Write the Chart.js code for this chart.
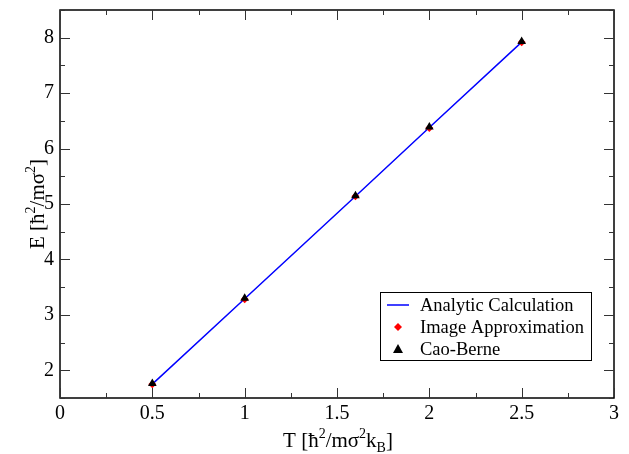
<!DOCTYPE html>
<html>
<head>
<meta charset="utf-8">
<script src="https://cdn.jsdelivr.net/npm/chart.js@4/dist/chart.umd.min.js"></script>
<style>
html,body{margin:0;padding:0;background:#fff;}
#c{display:block;}
</style>
</head>
<body>
<canvas id="c" width="629" height="454"></canvas>
<script>
// ---- data ----
const temps = [0.5, 1, 1.6, 2, 2.5];
const analytic = [1.75, 3.29, 5.14, 6.38, 7.92];
const imageApprox = [1.75, 3.28, 5.14, 6.37, 7.92];
const caoBerne = [1.76, 3.30, 5.15, 6.39, 7.93];
const xTickValues = [0, 0.5, 1, 1.5, 2, 2.5, 3];
const xTickLabels = ["0", "0.5", "1", "1.5", "2", "2.5", "3"];
const yTickValues = [2, 3, 4, 5, 6, 7, 8];
const yTickLabels = ["2", "3", "4", "5", "6", "7", "8"];
const seriesNames = ["Analytic Calculation", "Image Approximation", "Cao-Berne"];
const xTitleParts = [["T [ħ",0],["2",1],["/mσ",0],["2",1],["k",0],["B",-1],["]",0]];
const yTitleParts = [["E [ħ",0],["2",1],["/mσ",0],["2",1],["]",0]];

const FONT = "'Liberation Serif', 'Times New Roman', serif";

function drawRich(ctx, parts, size) {
  let w = 0;
  const items = parts.map(([t, s]) => {
    const fs = s === 0 ? size : Math.round(size * 0.68);
    ctx.font = fs + "px " + FONT;
    const mw = ctx.measureText(t).width;
    const it = {t, s, fs, w: mw};
    w += mw;
    return it;
  });
  let x = -w / 2;
  items.forEach(it => {
    ctx.font = it.fs + "px " + FONT;
    const dy = it.s === 1 ? -size * 0.42 : (it.s === -1 ? size * 0.25 : 0);
    ctx.fillText(it.t, x, dy);
    x += it.w;
  });
}

const framePlugin = {
  id: 'frame',
  afterDraw(chart) {
    const ctx = chart.ctx;
    const a = chart.chartArea;
    const xs = chart.scales.x, ys = chart.scales.y;
    ctx.save();
    ctx.strokeStyle = '#000';
    ctx.lineWidth = 1.5;
    ctx.strokeRect(a.left, a.top, a.right - a.left, a.bottom - a.top);
    ctx.lineWidth = 1;
    ctx.strokeStyle = '#333';
    const MAJ = 10, MIN = 5;
    for (let v = xs.min; v <= xs.max + 1e-9; v += 0.25) {
      const px = Math.round(xs.getPixelForValue(v)) + 0.5;
      const major = Math.abs(v * 2 - Math.round(v * 2)) < 1e-6;
      const L = major ? MAJ : MIN;
      ctx.beginPath();
      ctx.moveTo(px, a.bottom); ctx.lineTo(px, a.bottom - L);
      ctx.moveTo(px, a.top); ctx.lineTo(px, a.top + L);
      ctx.stroke();
    }
    for (let v = 1.5; v <= ys.max + 1e-9; v += 0.5) {
      const py = Math.round(ys.getPixelForValue(v)) + 0.5;
      const major = Math.abs(v - Math.round(v)) < 1e-6;
      const L = major ? MAJ : MIN;
      ctx.beginPath();
      ctx.moveTo(a.left, py); ctx.lineTo(a.left + L, py);
      ctx.moveTo(a.right, py); ctx.lineTo(a.right - L, py);
      ctx.stroke();
    }
    // axis titles
    ctx.fillStyle = '#000';
    ctx.textBaseline = 'alphabetic';
    ctx.textAlign = 'left';
    ctx.save();
    ctx.translate((a.left + a.right) / 2 + 1, 447);
    drawRich(ctx, xTitleParts, 21);
    ctx.restore();
    ctx.save();
    ctx.translate(44, (a.top + a.bottom) / 2);
    ctx.rotate(-Math.PI / 2);
    drawRich(ctx, yTitleParts, 21);
    ctx.restore();
    // legend
    const lx = 380, ly = 292, lw = 211, lh = 68;
    ctx.fillStyle = '#fff';
    ctx.fillRect(lx, ly, lw, lh);
    ctx.strokeStyle = '#000';
    ctx.lineWidth = 1;
    ctx.strokeRect(lx + 0.5, ly + 0.5, lw, lh);
    ctx.font = "18.5px " + FONT;
    ctx.textBaseline = 'middle';
    const rows = [305, 327, 349];
    chart.data.datasets.forEach((ds, i) => {
      const y = rows[i];
      ctx.fillStyle = '#000';
      ctx.fillText(ds.label, 420, y + 1);
      if (i === 0) {
        ctx.strokeStyle = ds.borderColor;
        ctx.lineWidth = 1.5;
        ctx.beginPath(); ctx.moveTo(387, y); ctx.lineTo(409, y); ctx.stroke();
      } else if (i === 1) {
        ctx.fillStyle = ds.backgroundColor;
        ctx.beginPath();
        ctx.moveTo(398, y - 4); ctx.lineTo(402, y); ctx.lineTo(398, y + 4); ctx.lineTo(394, y); ctx.closePath();
        ctx.fill();
      } else {
        ctx.fillStyle = ds.backgroundColor;
        ctx.beginPath();
        ctx.moveTo(398, y - 5); ctx.lineTo(403, y + 4); ctx.lineTo(393, y + 4); ctx.closePath();
        ctx.fill();
      }
    });
    ctx.restore();
  }
};

new Chart(document.getElementById('c'), {
  type: 'scatter',
  data: {
    datasets: [
      {
        label: seriesNames[0],
        data: temps.map((t, i) => ({x: t, y: analytic[i]})),
        showLine: true,
        borderColor: '#0000ff',
        backgroundColor: '#0000ff',
        borderWidth: 1.5,
        pointRadius: 0,
        order: 2
      },
      {
        label: seriesNames[1],
        data: temps.map((t, i) => ({x: t, y: imageApprox[i]})),
        showLine: false,
        pointStyle: 'rectRot',
        pointRadius: 4,
        backgroundColor: '#ff0000',
        borderColor: '#ff0000',
        borderWidth: 0,
        order: 1
      },
      {
        label: seriesNames[2],
        data: temps.map((t, i) => ({x: t, y: caoBerne[i]})),
        showLine: false,
        pointStyle: 'triangle',
        pointRadius: 5,
        backgroundColor: '#000000',
        borderColor: '#000000',
        borderWidth: 0,
        order: 0
      }
    ]
  },
  options: {
    responsive: false,
    animation: false,
    devicePixelRatio: 1,
    layout: { padding: { top: 10, right: 15, left: 0, bottom: 0 } },
    plugins: { legend: { display: false }, tooltip: { enabled: false } },
    scales: {
      x: {
        type: 'linear',
        min: 0, max: 3,
        afterBuildTicks: s => { s.ticks = xTickValues.map(v => ({value: v})); },
        afterFit: s => { s.height = 56; s.paddingLeft = 0; s.paddingRight = 0; },
        grid: { display: false, drawTicks: false },
        border: { display: false },
        ticks: {
          callback: (v) => { const i = xTickValues.indexOf(v); return i >= 0 ? xTickLabels[i] : ''; },
          color: '#000',
          font: { family: FONT, size: 20 },
          padding: 4,
          maxRotation: 0
        }
      },
      y: {
        type: 'linear',
        min: 1.5, max: 8.5,
        afterBuildTicks: s => { s.ticks = yTickValues.map(v => ({value: v})); },
        afterFit: s => { s.width = 60; s.paddingTop = 0; s.paddingBottom = 0; },
        grid: { display: false, drawTicks: false },
        border: { display: false },
        ticks: {
          callback: (v) => { const i = yTickValues.indexOf(v); return i >= 0 ? yTickLabels[i] : ''; },
          color: '#000',
          font: { family: FONT, size: 20 },
          padding: 6
        }
      }
    }
  },
  plugins: [framePlugin]
});
</script>
</body>
</html>
